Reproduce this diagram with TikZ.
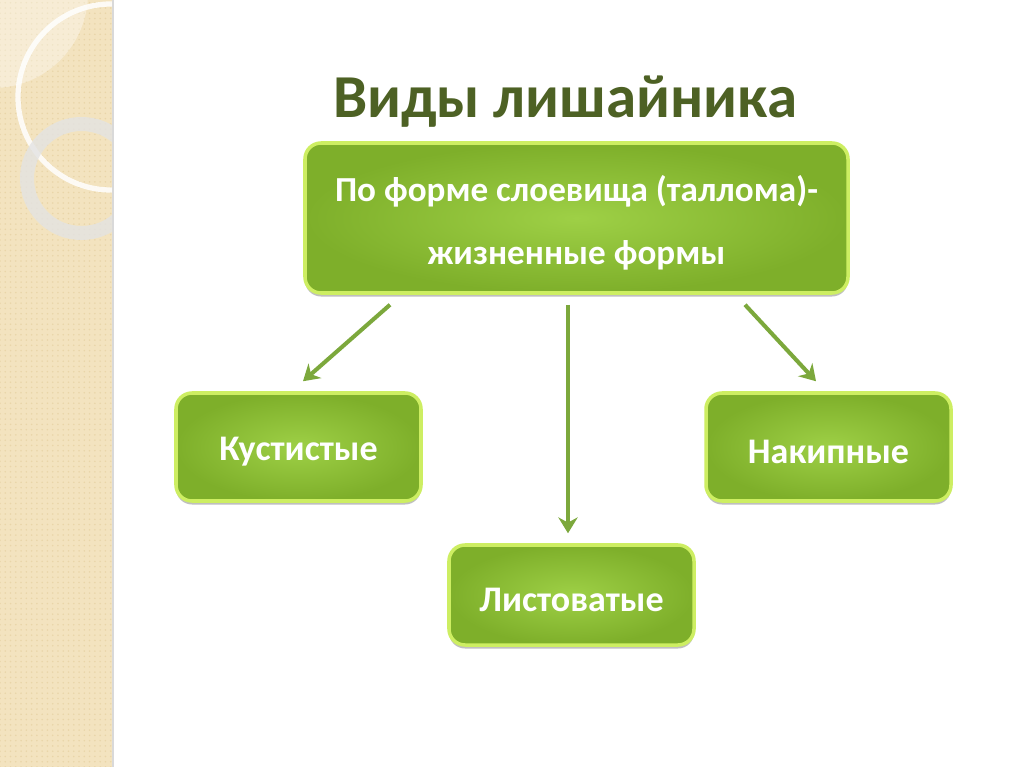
\documentclass[tikz,border=0pt]{standalone}
\usepackage{fontspec}
\setmainfont{Carlito}
\usetikzlibrary{calc,shadows,patterns,arrows.meta}
\definecolor{beige}{HTML}{F3E3BF}
\definecolor{beigedot}{HTML}{E9D5A8}
\definecolor{titlec}{HTML}{4D6124}
\definecolor{boxin}{HTML}{9ED046}
\definecolor{boxout}{HTML}{7EAF2A}
\definecolor{boxedge}{HTML}{CDEE62}
\definecolor{arrc}{HTML}{7CA83C}
\newcommand{\lowr}[1]{\raisebox{-2.8pt}[\height][\depth]{#1}}
\tikzset{
  gbox/.style={rounded corners=16*0.02cm, draw=boxedge, line width=2pt,
    inner color=boxin, outer color=boxout,
    drop shadow={opacity=0.5, shadow xshift=0pt, shadow yshift=-2pt},
    text=white, font=\bfseries\fontsize{20.5}{36}\selectfont, align=center, inner sep=0pt},
  arr/.style={draw=arrc, line width=2.3pt, -{Stealth[length=9pt,width=11pt]}},
}
\begin{document}
\begin{tikzpicture}[x=0.02cm,y=-0.02cm]
\useasboundingbox (0,0) rectangle (1024,767);
\fill[white] (0,0) rectangle (1024,767);
% left strip
\begin{scope}
\clip (0,0) rectangle (112,767);
\fill[beige] (0,0) rectangle (112,767);
\fill[pattern=dots, pattern color=beigedot] (0,0) rectangle (112,767);
\fill[white, opacity=0.35] (-7,-7) circle (95);
\draw[white, opacity=0.85, line width=3pt] (111,97) circle (93);
\draw[gray!22, opacity=0.8, line width=14*0.02cm] (81.5,178.5) circle (54.5);
\end{scope}
\draw[gray!30, line width=1.5pt] (113,0) -- (113,767);
% title
\node[font=\bfseries\fontsize{34.7}{40}\selectfont, text=titlec] (title) at (565,102) {Виды лишайника};
% boxes
\node[gbox, font=\bfseries\fontsize{20}{36}\selectfont, minimum width=543*0.02cm, minimum height=150*0.02cm] (top) at (576.5,218)
  {\lowr{По форме слоевища (таллома)-}\\\lowr{жизненные формы}};
\node[gbox, minimum width=245*0.02cm, minimum height=108*0.02cm] (left) at (298.5,447) {\lowr{Кустистые}};
\node[gbox, minimum width=245*0.02cm, minimum height=108*0.02cm] (right) at (828.5,447) {\lowr{Накипные}};
\node[gbox, minimum width=245*0.02cm, minimum height=100*0.02cm] (bottom) at (571.5,595) {\lowr{Листоватые}};
% arrows
\draw[arr] ($(top.south)+(-186.5,10)$) -- ($(left.north)+(4.5,-10)$);
\draw[arr] ($(top.south)+(-8.5,10)$) -- ($(bottom.north)+(-3.5,-10)$);
\draw[arr] ($(top.south)+(168.5,10)$) -- ($(right.north)+(-12.5,-10)$);
\end{tikzpicture}
\end{document}
